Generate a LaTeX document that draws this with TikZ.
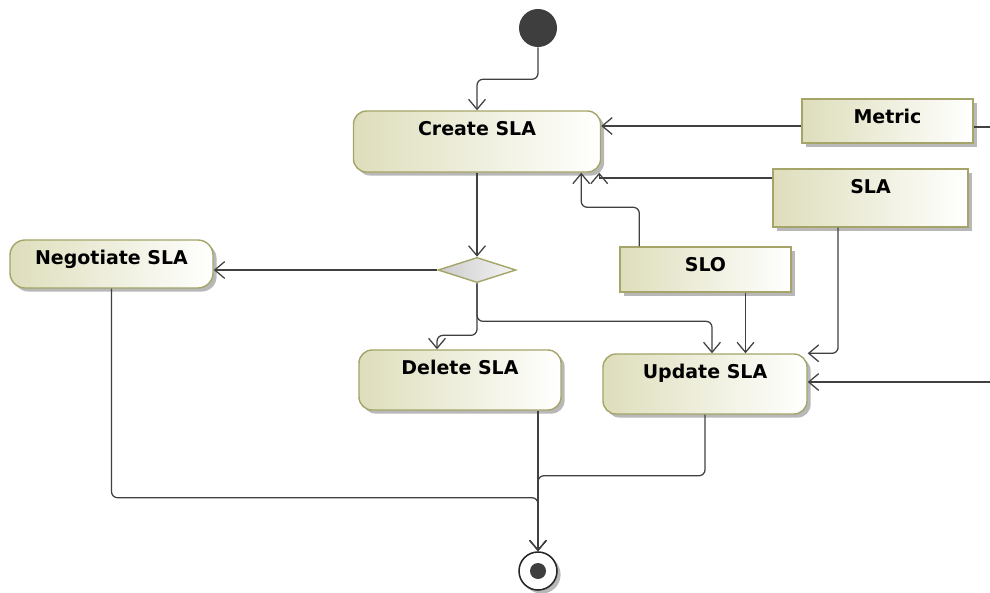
\documentclass[tikz,border=0pt]{standalone}
\usepackage{fontspec}
\setsansfont{DejaVu Sans}
\definecolor{oliveline}{RGB}{165,165,105}
\definecolor{olivefill}{RGB}{222,222,188}
\definecolor{edge}{RGB}{64,64,64}
\definecolor{dot}{RGB}{62,62,62}
\usetikzlibrary{calc, positioning, arrows.meta, shapes.geometric, shadows}

\begin{document}
\begin{tikzpicture}[
    x=0.025cm, y=-0.025cm,
    shade/.style={drop shadow={shadow xshift=0.09cm, shadow yshift=-0.09cm, fill=black!28, opacity=1}},
    act/.style={draw=oliveline, line width=1pt, left color=olivefill, right color=white,
      rounded corners=0.33cm, shade},
    obj/.style={draw=oliveline, line width=1pt, left color=olivefill, right color=white, shade},
    lbl/.style={anchor=north, inner sep=0pt, yshift=-0.27cm,
      font=\sffamily\bfseries\fontsize{13.5pt}{16pt}\selectfont},
    flow/.style={draw=edge, line width=0.9pt, rounded corners=0.15cm,
      -{Straight Barb[length=0.25cm, width=0.42cm]}},
    wire/.style={draw=edge, line width=0.9pt},
  ]
    \useasboundingbox (0,0) rectangle (990,592);

    % start and end
    \node[circle, fill=dot, minimum size=0.95cm, inner sep=0pt] (start) at (538,28) {};
    \node[circle, draw=black!85, line width=1.1pt, fill=white, minimum size=0.95cm, inner sep=0pt, shade,
      path picture={\fill[dot] (path picture bounding box.center) circle (0.2cm);}] (fin) at (538,571) {};

    % actions
    \node[act, minimum width=6.175cm, minimum height=1.525cm, label={[lbl]north:Create SLA}] (create) at (477,141.5) {};
    \node[act, rounded corners=0.38cm, minimum width=5.075cm, minimum height=1.2cm, label={[lbl]north:Negotiate SLA}] (neg) at (111.5,264) {};
    \node[act, minimum width=5.05cm, minimum height=1.5cm, label={[lbl]north:Delete SLA}] (del) at (460,380) {};
    \node[act, minimum width=5.1cm, minimum height=1.5cm, label={[lbl]north:Update SLA}] (upd) at (705,384) {};

    % decision
    \node[diamond, draw=oliveline, line width=1pt, left color=black!20, right color=black!4,
      minimum width=1.95cm, minimum height=0.63cm, inner sep=0pt] (dec) at (477,270) {};

    % objects
    \node[obj, minimum width=4.275cm, minimum height=1.1cm, label={[lbl]north:Metric}] (metric) at (887.5,121) {};
    \node[obj, minimum width=4.875cm, minimum height=1.45cm, label={[lbl]north:SLA}] (sla) at (870.5,198) {};
    \node[obj, minimum width=4.275cm, minimum height=1.125cm, label={[lbl]north:SLO}] (slo) at (705.5,269.5) {};

    \coordinate (rimA) at (990,127);
    \coordinate (rimB) at (990,382);
    \coordinate (cSLO) at ([xshift=-0.5cm]create.south east);
    \coordinate (cSLA) at ([xshift=-0.05cm]create.south east);
    \coordinate (sloB) at ([xshift=1cm]slo.south);

    % flows
    \draw[flow] (start.south) -- ++(0,32) -| (create);
    \draw[flow] (metric.west |- 0,126) -- (create.east |- 0,126);
    \draw[wire] (metric.east |- rimA) -- (rimA);
    \draw[flow, sharp corners] (sla.west |- 0,178) -- (cSLA |- 0,178) -- (cSLA);
    \draw[flow] ([xshift=0.5cm]slo.north west) -- ++(0,-39) -| (cSLO);
    \draw[flow] (create) -- (dec);
    \draw[flow] (dec.west) -- (dec.west -| neg.east);
    \draw[flow] (dec.south) -- ++(0,52) -| ([xshift=-0.575cm]del.north);
    \draw[flow] (dec.south) -- ++(0,38) -| ([xshift=0.175cm]upd.north);
    \draw[flow] (sloB) -- (sloB |- upd.north);
    \draw[flow] ([xshift=-0.81cm]sla.south) |- (upd.north east);
    \draw[flow] (rimB) -- (rimB -| upd.east);
    \draw[flow] (fin |- del.south) -- (fin);
    \draw[flow] (upd.south) -- ++(0,61) -| (fin);
    \draw[flow] (neg.south) -- ++(0,209) -| (fin);
  \end{tikzpicture}
\end{document}
